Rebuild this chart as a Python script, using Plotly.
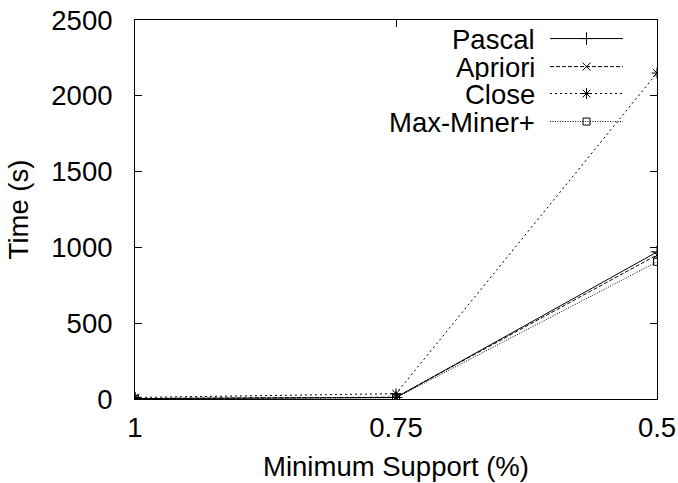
import plotly.graph_objects as go

# Minimum support thresholds (%), plotted on a reversed axis
support = [1, 0.75, 0.5]
support_labels = ["1", "0.75", "0.5"]

# Execution times (s)
pascal = [3, 10, 970]
apriori = [3, 12, 950]
close = [10, 35, 2150]
maxminer = [2, 8, 905]

series_names = ["Pascal", "Apriori", "Close", "Max-Miner+"]
series_values = [pascal, apriori, close, maxminer]
dashes = ["solid", "4px,2px", "2px,3px", "1px,1.5px"]
symbols = ["cross-thin-open", "x-thin-open", "asterisk-open", "square-open"]
marker_sizes = [9, 8, 9, 7]

FONT = "Liberation Sans, Arial, sans-serif"
FS = 27.5

fig = go.Figure()

for name, vals, dash, sym, ms in zip(series_names, series_values, dashes, symbols, marker_sizes):
    fig.add_trace(go.Scatter(
        x=support, y=vals, name=name, mode="lines+markers",
        line=dict(color="black", width=1, dash=dash),
        marker=dict(symbol=sym, size=ms, color="black",
                    line=dict(color="black", width=1)),
        showlegend=False,
    ))

# Key drawn gnuplot-style: right-aligned label, sample line to its right
key_x0, key_x1 = 0.795, 0.935   # fraction of plot width
key_y = [0.951, 0.877, 0.806, 0.732]
for i, (name, dash, sym, ms) in enumerate(zip(series_names, dashes, symbols, marker_sizes)):
    fig.add_trace(go.Scatter(
        x=[key_x0, key_x1], y=[key_y[i], key_y[i]], mode="lines",
        line=dict(color="black", width=1, dash=dash),
        xaxis="x2", yaxis="y2", showlegend=False, hoverinfo="skip",
    ))
    fig.add_trace(go.Scatter(
        x=[(key_x0 + key_x1) / 2], y=[key_y[i]], mode="markers",
        marker=dict(symbol=sym, size=ms, color="black",
                    line=dict(color="black", width=1)),
        xaxis="x2", yaxis="y2", showlegend=False, hoverinfo="skip",
    ))
    fig.add_annotation(
        x=key_x0 - 0.026, y=key_y[i], xref="x2", yref="y2",
        text=name, showarrow=False, xanchor="right", yanchor="middle",
        font=dict(family=FONT, size=FS, color="black"),
        borderpad=0, height=26, valign="middle",
    )

axis_common = dict(
    showline=True, linecolor="black", linewidth=1, mirror="ticks",
    ticks="inside", ticklen=7, tickcolor="black", tickwidth=1,
    showgrid=False, zeroline=False, automargin=False,
    tickfont=dict(family=FONT, size=FS, color="black"),
)

fig.update_layout(
    width=678, height=483,
    margin=dict(l=135, r=21, t=20, b=84),
    plot_bgcolor="white", paper_bgcolor="white",
    font=dict(family=FONT, size=FS, color="black"),
    xaxis=dict(
        range=[1, 0.5], tickvals=support, ticktext=support_labels,
        ticklabelstandoff=4,
        title=dict(text="Minimum Support (%)", standoff=14,
                   font=dict(family=FONT, size=FS)),
        **axis_common,
    ),
    yaxis=dict(
        range=[0, 2500], tickvals=[0, 500, 1000, 1500, 2000, 2500],
        ticklabelstandoff=16,
        title=dict(text="Time (s)", standoff=14,
                   font=dict(family=FONT, size=FS)),
        **axis_common,
    ),
    xaxis2=dict(overlaying="x", range=[0, 1], visible=False, anchor="y2"),
    yaxis2=dict(overlaying="y", range=[0, 1], visible=False, anchor="x2"),
)

fig.write_html("out.html")
